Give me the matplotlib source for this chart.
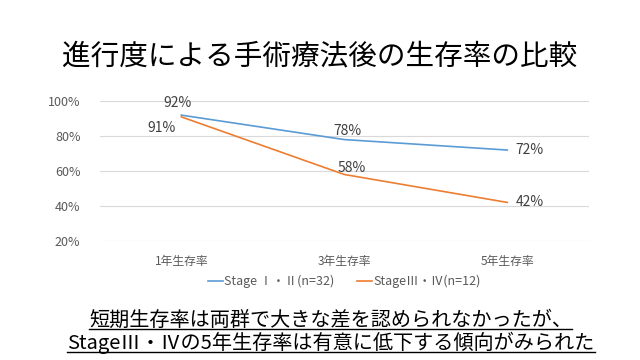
import numpy as np
import matplotlib.pyplot as plt
from matplotlib.lines import Line2D

plt.rcParams['font.family'] = ['Noto Sans CJK JP', 'DejaVu Sans']

categories = ['1年生存率', '3年生存率', '5年生存率']
stage12 = [92, 78, 72]
stage34 = [91, 58, 42]
label12 = 'Stage Ⅰ・Ⅱ(n=32)'
label34 = 'StageⅢ・Ⅳ(n=12)'
yticks = [20, 40, 60, 80, 100]

blue = '#5B9BD5'
orange = '#ED7D31'
txt = '#404040'

fig = plt.figure(figsize=(6.4, 3.6), dpi=100)
ax = fig.add_axes([0.156, 0.331, 0.764, 0.388])

x = np.arange(len(categories)) + 0.5
ax.plot(x, stage12, color=blue, lw=1.2, label=label12)
ax.plot(x, stage34, color=orange, lw=1.2, label=label34)

ax.set_xlim(0, 3)
ax.set_ylim(20, 100)
ax.set_yticks(yticks)
ax.set_yticklabels([f'{v}%' for v in yticks], fontsize=9, color='#595959')
ax.set_xticks(x)
ax.set_xticklabels(categories, fontsize=8.5, color='#595959')
ax.tick_params(length=0, pad=10)
ax.tick_params(axis='y', pad=14)
ax.grid(axis='y', color='#D9D9D9', lw=0.8)
for s in ax.spines.values():
    s.set_visible(False)

# data labels
offs12 = [(-3, 9), (2, 6), (6, 0)]
for xi, v, o in zip(x, stage12, offs12):
    ax.annotate(f'{v}%', (xi, v), xytext=o, textcoords='offset points',
                ha='left' if o[0] > 4 else 'center', va='center',
                fontsize=10, color=txt)
offs34 = [(-14, -8), (5, 5), (6, 0)]
for xi, v, o in zip(x, stage34, offs34):
    ax.annotate(f'{v}%', (xi, v), xytext=o, textcoords='offset points',
                ha='left' if o[0] > 5 else 'center', va='center',
                fontsize=10, color=txt)

ax.legend(loc='center', bbox_to_anchor=(0.5, -0.29), ncol=2, frameon=False,
          fontsize=9, handlelength=1.2, handletextpad=0.1, columnspacing=1.8,
          labelcolor='#595959')

fig.text(0.5, 0.842, '進行度による手術療法後の生存率の比較', ha='center', va='center',
         fontsize=20.6, color='black')

lines = ['短期生存率は両群で大きな差を認められなかったが、',
         'StageⅢ・Ⅳの5年生存率は有意に低下する傾向がみられた']
ys = [0.094, 0.030]
texts = [fig.text(0.517, y, s, ha='center', va='baseline', fontsize=14.5,
                  color='black') for s, y in zip(lines, ys)]

fig.canvas.draw()
r = fig.canvas.get_renderer()
for t, y in zip(texts, ys):
    bb = t.get_window_extent(r).transformed(fig.transFigure.inverted())
    uy = y - 3.0 / 360
    fig.add_artist(Line2D([bb.x0, bb.x1], [uy, uy], color='black', lw=1.0,
                          transform=fig.transFigure))

fig.savefig('out.png', dpi=100)
